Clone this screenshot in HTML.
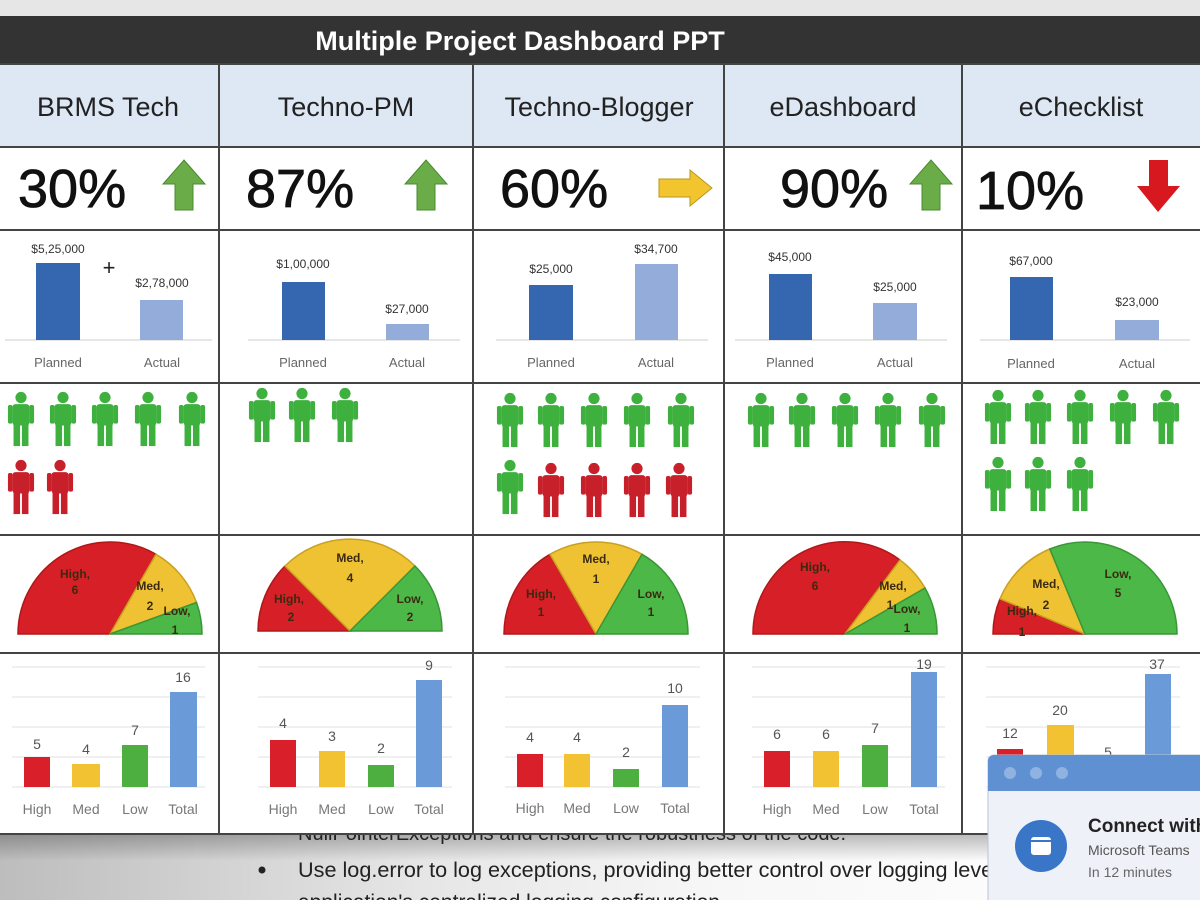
<!DOCTYPE html>
<html><head><meta charset="utf-8"><style>
html,body{margin:0;padding:0;width:1200px;height:900px;overflow:hidden;background:#fff}
svg{display:block;font-family:"Liberation Sans",Arial,sans-serif}
</style></head><body>
<svg width="1200" height="900" viewBox="0 0 1200 900" xmlns="http://www.w3.org/2000/svg">
<defs>
<linearGradient id="bg" x1="0" y1="0" x2="1" y2="0"><stop offset="0" stop-color="#bdbdbd"/><stop offset="0.35" stop-color="#e6e6e6"/><stop offset="0.6" stop-color="#f7f7f7"/><stop offset="1" stop-color="#fff"/></linearGradient>
<linearGradient id="bgv" x1="0" y1="0" x2="0" y2="1"><stop offset="0" stop-color="#000" stop-opacity="0.25"/><stop offset="0.4" stop-color="#000" stop-opacity="0"/></linearGradient>
<symbol id="p" viewBox="-15 0 30 58" overflow="visible">
<circle cx="0" cy="6" r="6"/>
<rect x="-9" y="13" width="18" height="23" rx="3"/>
<rect x="-14" y="14" width="5" height="20" rx="2"/>
<rect x="9" y="14" width="5" height="20" rx="2"/>
<rect x="-8" y="34" width="7" height="24"/>
<rect x="1" y="34" width="7" height="24"/>
</symbol>
</defs>
<rect width="1200" height="900" fill="#fff"/>
<rect width="1200" height="16" fill="#e6e6e6"/>
<rect y="835" width="1200" height="65" fill="url(#bg)"/>
<rect y="835" width="1200" height="65" fill="url(#bgv)"/>
<text x="298" y="840" font-size="20" fill="#222">NullPointerExceptions and ensure the robustness of the code.</text>
<circle cx="262" cy="870" r="3.5" fill="#222"/>
<text x="298" y="877" font-size="21" fill="#222" textLength="700" lengthAdjust="spacingAndGlyphs">Use log.error to log exceptions, providing better control over logging level</text>
<text x="298" y="909" font-size="21" fill="#222">application's centralized logging configuration</text>
<rect x="0" y="16" width="1200" height="48" fill="#333"/>
<text x="520" y="50" font-size="27" font-weight="bold" fill="#fff" text-anchor="middle">Multiple Project Dashboard PPT</text>
<rect x="0" y="64" width="1200" height="83" fill="#dde8f4"/>
<rect x="0" y="147" width="1200" height="687" fill="#fff"/>
<g stroke="#444" stroke-width="2">
<line x1="0" y1="64" x2="1200" y2="64"/><line x1="0" y1="147" x2="1200" y2="147"/>
<line x1="0" y1="230" x2="1200" y2="230"/><line x1="0" y1="383" x2="1200" y2="383"/>
<line x1="0" y1="535" x2="1200" y2="535"/><line x1="0" y1="653" x2="1200" y2="653"/>
<line x1="0" y1="834" x2="1200" y2="834"/>
<line x1="219" y1="64" x2="219" y2="834"/><line x1="473" y1="64" x2="473" y2="834"/>
<line x1="724" y1="64" x2="724" y2="834"/><line x1="962" y1="64" x2="962" y2="834"/>
</g>
<g font-size="27" fill="#222" text-anchor="middle">
<text x="108" y="116">BRMS Tech</text><text x="346" y="116">Techno-PM</text>
<text x="599" y="116">Techno-Blogger</text><text x="843" y="116">eDashboard</text>
<text x="1081" y="116">eChecklist</text>
</g>
<g font-size="54" fill="#111" stroke="#111" stroke-width="0.8">
<text x="18" y="207">30%</text><text x="246" y="207">87%</text><text x="500" y="207">60%</text>
<text x="780" y="207">90%</text><text x="976" y="209">10%</text>
</g>
<g fill="#6aac47" stroke="#4b8a32" stroke-width="1">
<path d="M184,160 L205,184 L193,184 L193,210 L175,210 L175,184 L163,184Z"/>
<path d="M426,160 L447,184 L435,184 L435,210 L417,210 L417,184 L405,184Z"/>
<path d="M931,160 L952,184 L940,184 L940,210 L922,210 L922,184 L910,184Z"/>
</g>
<path d="M712,188 L690,170 L690,179 L659,179 L659,197 L690,197 L690,206Z" fill="#f2c42e" stroke="#b8961e"/>
<path d="M1158,212 L1180,186 L1168,186 L1168,160 L1149,160 L1149,186 L1137,186Z" fill="#d7191f"/>
<g stroke="#ddd" stroke-width="1.5">
<line x1="5" y1="340" x2="212" y2="340"/><line x1="248" y1="340" x2="460" y2="340"/>
<line x1="496" y1="340" x2="708" y2="340"/><line x1="735" y1="340" x2="947" y2="340"/>
<line x1="980" y1="340" x2="1190" y2="340"/>
</g>
<g fill="#3566b0">
<rect x="36" y="263" width="44" height="77"/><rect x="282" y="282" width="43" height="58"/>
<rect x="529" y="285" width="44" height="55"/><rect x="769" y="274" width="43" height="66"/>
<rect x="1010" y="277" width="43" height="63"/>
</g>
<g fill="#94acd9">
<rect x="140" y="300" width="43" height="40"/><rect x="386" y="324" width="43" height="16"/>
<rect x="635" y="264" width="43" height="76"/><rect x="873" y="303" width="44" height="37"/>
<rect x="1115" y="320" width="44" height="20"/>
</g>
<g font-size="12" fill="#333" text-anchor="middle">
<text x="58" y="253">$5,25,000</text><text x="162" y="287">$2,78,000</text>
<text x="303" y="268">$1,00,000</text><text x="407" y="313">$27,000</text>
<text x="551" y="273">$25,000</text><text x="656" y="253">$34,700</text>
<text x="790" y="261">$45,000</text><text x="895" y="291">$25,000</text>
<text x="1031" y="265">$67,000</text><text x="1137" y="306">$23,000</text>
</g>
<g font-size="13" fill="#666" text-anchor="middle">
<text x="58" y="367">Planned</text><text x="162" y="367">Actual</text>
<text x="303" y="367">Planned</text><text x="407" y="367">Actual</text>
<text x="551" y="367">Planned</text><text x="656" y="367">Actual</text>
<text x="790" y="367">Planned</text><text x="895" y="367">Actual</text>
<text x="1031" y="368">Planned</text><text x="1137" y="368">Actual</text>
</g>
<text x="109" y="275" font-size="22" fill="#222" text-anchor="middle">+</text>
<g fill="#3eb03e">
<use href="#p" x="7" y="390" width="28" height="58"/><use href="#p" x="49" y="390" width="28" height="58"/>
<use href="#p" x="91" y="390" width="28" height="58"/><use href="#p" x="134" y="390" width="28" height="58"/>
<use href="#p" x="178" y="390" width="28" height="58"/>
<use href="#p" x="248" y="386" width="28" height="58"/><use href="#p" x="288" y="386" width="28" height="58"/>
<use href="#p" x="331" y="386" width="28" height="58"/>
<use href="#p" x="496" y="391" width="28" height="58"/><use href="#p" x="537" y="391" width="28" height="58"/>
<use href="#p" x="580" y="391" width="28" height="58"/><use href="#p" x="623" y="391" width="28" height="58"/>
<use href="#p" x="667" y="391" width="28" height="58"/>
<use href="#p" x="496" y="458" width="28" height="58"/>
<use href="#p" x="747" y="391" width="28" height="58"/><use href="#p" x="788" y="391" width="28" height="58"/>
<use href="#p" x="831" y="391" width="28" height="58"/><use href="#p" x="874" y="391" width="28" height="58"/>
<use href="#p" x="918" y="391" width="28" height="58"/>
<use href="#p" x="984" y="388" width="28" height="58"/><use href="#p" x="1024" y="388" width="28" height="58"/>
<use href="#p" x="1066" y="388" width="28" height="58"/><use href="#p" x="1109" y="388" width="28" height="58"/>
<use href="#p" x="1152" y="388" width="28" height="58"/>
<use href="#p" x="984" y="455" width="28" height="58"/><use href="#p" x="1024" y="455" width="28" height="58"/>
<use href="#p" x="1066" y="455" width="28" height="58"/>
</g>
<g fill="#c8202a">
<use href="#p" x="7" y="458" width="28" height="58"/><use href="#p" x="46" y="458" width="28" height="58"/>
<use href="#p" x="537" y="461" width="28" height="58"/><use href="#p" x="580" y="461" width="28" height="58"/>
<use href="#p" x="623" y="461" width="28" height="58"/><use href="#p" x="665" y="461" width="28" height="58"/>
</g>
<g stroke-width="1.5">
<path d="M110,634 L18,634 A92,92 0 0 1 156,554.3Z" fill="#d71f27" stroke="#b01818"/>
<path d="M110,634 L156,554.3 A92,92 0 0 1 196.5,602.5Z" fill="#efc234" stroke="#c9a020"/>
<path d="M110,634 L196.5,602.5 A92,92 0 0 1 202,634Z" fill="#4cb847" stroke="#3a9636"/>
<path d="M350,631 L258,631 A92,92 0 0 1 285,566Z" fill="#d71f27" stroke="#b01818"/>
<path d="M350,631 L285,566 A92,92 0 0 1 415,566Z" fill="#efc234" stroke="#c9a020"/>
<path d="M350,631 L415,566 A92,92 0 0 1 442,631Z" fill="#4cb847" stroke="#3a9636"/>
<path d="M596,634 L504,634 A92,92 0 0 1 550,554.3Z" fill="#d71f27" stroke="#b01818"/>
<path d="M596,634 L550,554.3 A92,92 0 0 1 642,554.3Z" fill="#efc234" stroke="#c9a020"/>
<path d="M596,634 L642,554.3 A92,92 0 0 1 688,634Z" fill="#4cb847" stroke="#3a9636"/>
<path d="M845,634 L753,634 A92,92 0 0 1 900,560Z" fill="#d71f27" stroke="#b01818"/>
<path d="M845,634 L900,560 A92,92 0 0 1 925,588Z" fill="#efc234" stroke="#c9a020"/>
<path d="M845,634 L925,588 A92,92 0 0 1 937,634Z" fill="#4cb847" stroke="#3a9636"/>
<path d="M1085,634 L993,634 A92,92 0 0 1 1000,598.8Z" fill="#d71f27" stroke="#b01818"/>
<path d="M1085,634 L1000,598.8 A92,92 0 0 1 1049.8,549Z" fill="#efc234" stroke="#c9a020"/>
<path d="M1085,634 L1049.8,549 A92,92 0 0 1 1177,634Z" fill="#4cb847" stroke="#3a9636"/>
</g>
<g font-size="12" fill="#3a2a10" text-anchor="middle" font-weight="bold">
<text x="75" y="578">High,</text><text x="75" y="594">6</text>
<text x="150" y="590">Med,</text><text x="150" y="610">2</text>
<text x="177" y="615">Low,</text><text x="175" y="634">1</text>
<text x="289" y="603">High,</text><text x="291" y="621">2</text>
<text x="350" y="562">Med,</text><text x="350" y="582">4</text>
<text x="410" y="603">Low,</text><text x="410" y="621">2</text>
<text x="541" y="598">High,</text><text x="541" y="616">1</text>
<text x="596" y="563">Med,</text><text x="596" y="583">1</text>
<text x="651" y="598">Low,</text><text x="651" y="616">1</text>
<text x="815" y="571">High,</text><text x="815" y="590">6</text>
<text x="893" y="590">Med,</text><text x="890" y="609">1</text>
<text x="907" y="613">Low,</text><text x="907" y="632">1</text>
<text x="1022" y="615">High,</text><text x="1022" y="636">1</text>
<text x="1046" y="588">Med,</text><text x="1046" y="609">2</text>
<text x="1118" y="578">Low,</text><text x="1118" y="597">5</text>
</g>
<g stroke="#e2e2e2" stroke-width="1">
<path d="M12,667H205M12,697H205M12,727H205M12,757H205M12,787H205"/>
<path d="M258,667H452M258,697H452M258,727H452M258,757H452M258,787H452"/>
<path d="M505,667H700M505,697H700M505,727H700M505,757H700M505,787H700"/>
<path d="M752,667H945M752,697H945M752,727H945M752,757H945M752,787H945"/>
<path d="M986,667H1180M986,697H1180M986,727H1180M986,757H1180M986,787H1180"/>
</g>
<g fill="#d9202a"><rect x="24" y="757" width="26" height="30"/><rect x="270" y="740" width="26" height="47"/>
<rect x="517" y="754" width="26" height="33"/><rect x="764" y="751" width="26" height="36"/><rect x="997" y="749" width="26" height="38"/></g>
<g fill="#f2c232"><rect x="72" y="764" width="28" height="23"/><rect x="319" y="751" width="26" height="36"/>
<rect x="564" y="754" width="26" height="33"/><rect x="813" y="751" width="26" height="36"/><rect x="1047" y="725" width="27" height="62"/></g>
<g fill="#4caf3f"><rect x="122" y="745" width="26" height="42"/><rect x="368" y="765" width="26" height="22"/>
<rect x="613" y="769" width="26" height="18"/><rect x="862" y="745" width="26" height="42"/></g>
<g fill="#6a9bd8"><rect x="170" y="692" width="27" height="95"/><rect x="416" y="680" width="26" height="107"/>
<rect x="662" y="705" width="26" height="82"/><rect x="911" y="672" width="26" height="115"/><rect x="1145" y="674" width="26" height="113"/></g>
<g font-size="14" fill="#555" text-anchor="middle">
<text x="37" y="749">5</text><text x="86" y="754">4</text><text x="135" y="735">7</text><text x="183" y="682">16</text>
<text x="283" y="728">4</text><text x="332" y="741">3</text><text x="381" y="753">2</text><text x="429" y="670">9</text>
<text x="530" y="742">4</text><text x="577" y="742">4</text><text x="626" y="757">2</text><text x="675" y="693">10</text>
<text x="777" y="739">6</text><text x="826" y="739">6</text><text x="875" y="733">7</text><text x="924" y="669">19</text>
<text x="1010" y="738">12</text><text x="1060" y="715">20</text><text x="1108" y="757">5</text><text x="1157" y="669">37</text>
</g>
<g font-size="14" fill="#777" text-anchor="middle">
<text x="37" y="814">High</text><text x="86" y="814">Med</text><text x="135" y="814">Low</text><text x="183" y="814">Total</text>
<text x="283" y="814">High</text><text x="332" y="814">Med</text><text x="381" y="814">Low</text><text x="429" y="814">Total</text>
<text x="530" y="813">High</text><text x="577" y="813">Med</text><text x="626" y="813">Low</text><text x="675" y="813">Total</text>
<text x="777" y="814">High</text><text x="826" y="814">Med</text><text x="875" y="814">Low</text><text x="924" y="814">Total</text>
</g>
<rect x="988" y="755" width="220" height="160" rx="6" fill="#eef2f8" stroke="#b8c4d6"/>
<path d="M988,761 a6,6 0 0 1 6,-6 H1200 V791 H988Z" fill="#5f91d2"/>
<circle cx="1010" cy="773" r="6" fill="#8fb2e0"/><circle cx="1036" cy="773" r="6" fill="#8fb2e0"/><circle cx="1062" cy="773" r="6" fill="#8fb2e0"/>
<circle cx="1041" cy="846" r="26" fill="#3a76c8"/>
<rect x="1031" y="837" width="20" height="18" rx="3" fill="#fff"/><rect x="1031" y="840" width="20" height="2" fill="#3a76c8"/>
<text x="1088" y="832" font-size="19" font-weight="bold" fill="#222">Connect with</text>
<text x="1088" y="855" font-size="14" fill="#555">Microsoft Teams</text>
<text x="1088" y="877" font-size="14" fill="#666">In 12 minutes</text>
</svg>
</body></html>
